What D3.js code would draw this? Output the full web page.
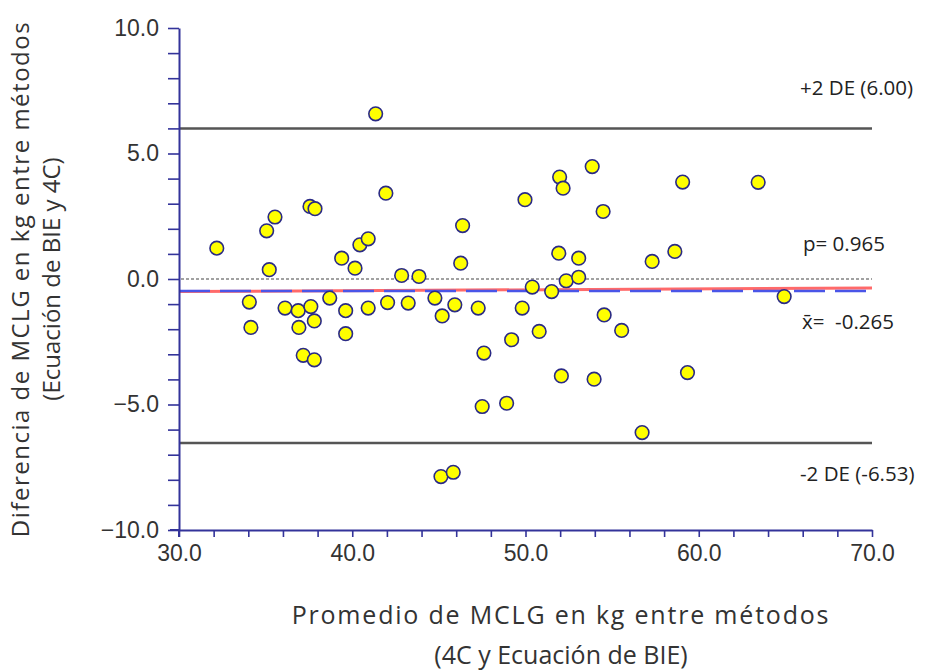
<!DOCTYPE html>
<html>
<head>
<meta charset="utf-8">
<script src="https://cdn.jsdelivr.net/npm/d3@7"></script>
<style>
  body { margin: 0; background: #fff; }
  .tick text { font-family: "Liberation Sans", Arial, sans-serif; fill: #333; }
  .ann { white-space: pre; }
</style>
</head>
<body>
<div class="grafico"></div>
<script>
// Bland-Altman data (promedio vs diferencia)
const promedio = [32.18, 34.06, 34.15, 35.06, 35.21, 35.54, 36.12, 36.88, 36.92, 37.17,
  37.56, 37.85, 37.61, 37.81, 37.81, 38.70, 39.39, 39.62, 39.62, 40.16,
  40.44, 40.92, 40.92, 41.35, 41.94, 42.04, 42.85, 43.23, 43.85, 44.77,
  45.12, 45.19, 45.83, 45.92, 46.26, 46.37, 47.27, 47.50, 47.60, 48.91,
  49.20, 49.81, 49.97, 50.39, 50.79, 51.51, 51.97, 51.92, 52.17, 52.07,
  52.35, 53.07, 53.07, 53.85, 53.96, 54.48, 54.54, 55.55, 56.73, 57.31,
  58.62, 59.07, 59.35, 63.43, 64.93];
const diferencia = [1.23, -0.92, -1.93, 1.92, 0.37, 2.47, -1.16, -1.26, -1.93, -3.04,
  2.89, 2.80, -1.10, -1.67, -3.22, -0.76, 0.83, -1.26, -2.18, 0.43,
  1.36, 1.60, -1.16, 6.58, 3.42, -0.94, 0.14, -0.96, 0.10, -0.76,
  -7.87, -1.47, -7.70, -1.03, 0.63, 2.13, -1.16, -5.08, -2.95, -4.95,
  -2.42, -1.16, 3.16, -0.32, -2.09, -0.50, 4.06, 1.03, 3.62, -3.86,
  -0.07, 0.83, 0.07, 4.48, -3.99, 2.69, -1.43, -2.05, -6.12, 0.70,
  1.10, 3.86, -3.73, 3.85, -0.70];

const xDomain = [30, 70];
const yDomain = [-10, 10];
const xTicks = d3.range(30, 71, 2);
const yTicks = d3.range(-10, 11, 1);

const limSup = 6.00, limInf = -6.53;
const mediaLinea = -0.48;          // blue line as drawn
const regresion = [-0.50, -0.36];  // red line at x=30 and x=70
const etiquetas = ["+2 DE (6.00)", "p= 0.965", "x\u0304=  -0.265", "-2 DE (-6.53)"];

const width = 925, height = 671;
const margin = {top: 28, right: 53, bottom: 141, left: 179};

const svg = d3.select(".grafico").append("svg")
  .attr("width", width)
  .attr("height", height);

const x = d3.scaleLinear().domain(xDomain).range([margin.left, width - margin.right]);
const y = d3.scaleLinear().domain(yDomain).range([height - margin.bottom, margin.top]);

const axisColor = "#33339a";

// reference lines
svg.append("line")
  .attr("x1", x(30) + 2).attr("x2", x(70))
  .attr("y1", y(0)).attr("y2", y(0))
  .attr("stroke", "#444").attr("stroke-width", 1.2)
  .attr("stroke-dasharray", "3,2");

[limSup, limInf].forEach(v => {
  svg.append("line")
    .attr("x1", x(30)).attr("x2", x(70))
    .attr("y1", y(v)).attr("y2", y(v))
    .attr("stroke", "#555").attr("stroke-width", 2.5);
});

svg.append("line")
  .attr("x1", x(30)).attr("x2", x(70))
  .attr("y1", y(regresion[0])).attr("y2", y(regresion[1]))
  .attr("stroke", "#ff6a6a").attr("stroke-width", 3);

svg.append("line")
  .attr("x1", x(30)).attr("x2", x(70))
  .attr("y1", y(mediaLinea)).attr("y2", y(mediaLinea))
  .attr("stroke", "#4a55e8").attr("stroke-width", 2.5)
  .attr("stroke-dasharray", "31,10");

// axes
const yAxis = d3.axisLeft(y)
  .tickValues(yTicks)
  .tickSize(11)
  .tickSizeOuter(0)
  .tickPadding(9)
  .tickFormat(d => d % 5 === 0 ? d3.format(".1f")(d) : "");

const xAxis = d3.axisBottom(x)
  .tickValues(xTicks)
  .tickSize(7)
  .tickSizeOuter(0)
  .tickPadding(8)
  .tickFormat(d => d % 10 === 0 ? d3.format(".1f")(d) : "");

const gy = svg.append("g")
  .attr("transform", "translate(" + margin.left + ",0)")
  .call(yAxis);

const gx = svg.append("g")
  .attr("transform", "translate(0," + (height - margin.bottom) + ")")
  .call(xAxis);

[gx, gy].forEach(g => {
  g.select(".domain").attr("stroke", axisColor).attr("stroke-width", 2);
  g.selectAll(".tick line").attr("stroke", axisColor).attr("stroke-width", 1.6);
  g.selectAll(".tick text").attr("font-size", 23);
});

// little overshoots at the corner
svg.append("line")
  .attr("x1", x(30) - 9).attr("x2", x(30))
  .attr("y1", y(-10)).attr("y2", y(-10))
  .attr("stroke", axisColor).attr("stroke-width", 2);
svg.append("line")
  .attr("x1", x(30)).attr("x2", x(30))
  .attr("y1", y(-10)).attr("y2", y(-10) + 7)
  .attr("stroke", axisColor).attr("stroke-width", 2);

// points
svg.append("g")
  .selectAll("circle")
  .data(promedio.map((p, i) => [p, diferencia[i]]))
  .enter().append("circle")
    .attr("cx", d => x(d[0]))
    .attr("cy", d => y(d[1]))
    .attr("r", 6.8)
    .attr("fill", "#ffff00")
    .attr("stroke", "#2a2a85")
    .attr("stroke-width", 1.6);

// annotations
const annFont = "'Open Sans', 'Noto Sans', sans-serif";
const annY = [y(limSup) - 33, y(0) - 28, y(mediaLinea) + 38, y(limInf) + 38];
const annX = [800, 803, 802, 800];
svg.append("g")
  .selectAll("text")
  .data(etiquetas)
  .enter().append("text")
    .attr("class", "ann")
    .attr("x", (d, i) => annX[i])
    .attr("y", (d, i) => annY[i])
    .attr("font-family", annFont)
    .attr("font-size", 20.5)
    .attr("fill", "#222")
    .text(d => d);

// axis titles
const titleFont = "'Open Sans', 'Noto Sans', sans-serif";
const yTitle = svg.append("text")
  .attr("transform", "translate(0," + y(0) + ") rotate(-90)")
  .attr("text-anchor", "middle")
  .attr("font-family", titleFont)
  .attr("font-size", 24)
  .attr("fill", "#333");
yTitle.append("tspan").attr("x", 0).attr("y", 29)
  .attr("letter-spacing", 1.5)
  .text("Diferencia de MCLG en kg entre métodos");
yTitle.append("tspan").attr("x", 0).attr("y", 60).text("(Ecuación de BIE y 4C)");

const xTitle = svg.append("text")
  .attr("text-anchor", "middle")
  .attr("font-family", titleFont)
  .attr("font-size", 25)
  .attr("fill", "#333");
xTitle.append("tspan").attr("x", 561).attr("y", 624)
  .attr("letter-spacing", 1.8)
  .text("Promedio de MCLG en kg entre métodos");
xTitle.append("tspan").attr("x", 561).attr("y", 664).text("(4C y Ecuación de BIE)");
</script>
</body>
</html>
